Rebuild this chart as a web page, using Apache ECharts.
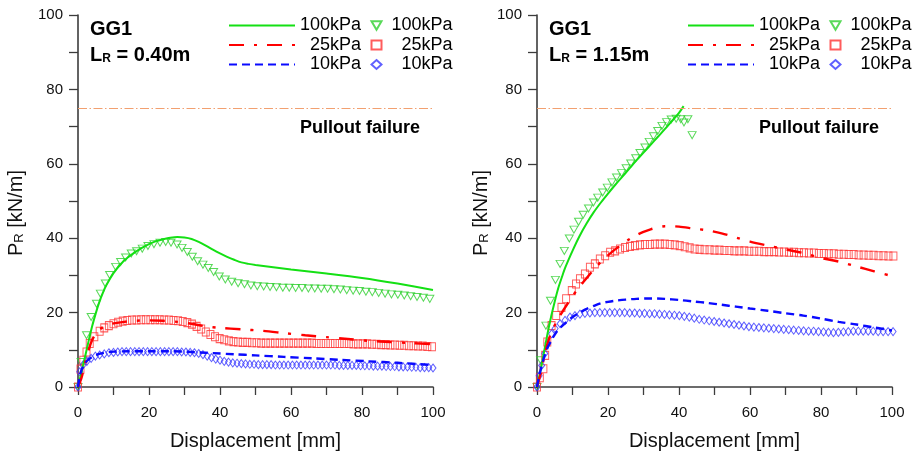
<!DOCTYPE html>
<html>
<head>
<meta charset="utf-8">
<script src="https://cdn.jsdelivr.net/npm/echarts@6/dist/echarts.min.js"></script>
<style>
  html, body { margin: 0; padding: 0; background: #ffffff; }
  #chart { width: 913px; height: 455px; }
</style>
</head>
<body>
<div id="chart"></div>
<script>
// ---------------------------------------------------------------
// Pullout resistance P_R [kN/m] versus displacement [mm], geogrid GG1
// two reinforcement lengths, three normal pressures each.
// Lines = calculated curves, hollow markers = measured points.
// ---------------------------------------------------------------
const pressures = ['100kPa', '25kPa', '10kPa'];
const lengths = ['0.40m', '1.15m'];
const xTickLabels = [0, 20, 40, 60, 80, 100];
const yTickLabels = [0, 20, 40, 60, 80, 100];
const pulloutLimit = 75;
const pulloutText = 'Pullout failure';
const panelName = 'GG1';
const xName = 'Displacement [mm]';

// ---- L_R = 0.40 m, calculated ----
const calc040_100 = [[0,0],[1,4],[2,8.2],[3,12.4],[4,16.4],[5,19.8],[6,22.8],[7,25.3],[8,27.4],[10,30.6],[12,33],[14,34.8],[16,36.2],[18,37.4],[20,38.4],[22,39.2],[24,39.7],[26,40.1],[28,40.3],[30,40.2],[32,39.8],[34,39],[36,38],[38,36.9],[40,35.9],[42,35],[44,34.2],[46,33.5],[48,33.1],[50,32.8],[60,31.6],[70,30.5],[80,29.3],[90,27.8],[100,26.1]];
const calc040_25 = [[0,0],[1,2.5],[2,6.5],[3,10],[4,12.7],[5,14.3],[6,15.4],[8,16.5],[10,17.1],[13,17.5],[16,17.8],[20,17.9],[24,17.8],[28,17.5],[32,17],[36,16.3],[40,15.9],[46,15.5],[52,15.1],[58,14.5],[64,13.9],[70,13.4],[76,12.9],[82,12.4],[88,12.1],[94,11.8],[100,11.5]];
const calc040_10 = [[0,0],[0.5,3],[1,4.6],[2,6.4],[3,7.4],[4,8.1],[6,8.9],[8,9.3],[10,9.5],[14,9.6],[20,9.6],[26,9.6],[30,9.5],[34,9.3],[38,9.1],[44,8.8],[50,8.5],[58,8.1],[66,7.7],[74,7.3],[82,6.9],[90,6.5],[100,5.9]];

// ---- L_R = 0.40 m, measured ----
const test040_100 = [[0,0],[0.85,6.7],[2.4,13.9],[3.7,18.8],[5.2,22.4],[6.3,25.1],[7.7,27.8],[8.9,30.1],[10.6,32.3],[12,33.6],[13.4,34.8],[15,35.9],[16.5,36.5],[18.1,37.2],[19.7,37.9],[21.4,38.4],[23.1,38.8],[24.7,39],[26.2,38.8],[27.9,38.3],[29.3,37.4],[30.8,36.3],[32.2,35],[33.7,33.8],[35.2,32.9],[36.7,32],[38.2,30.9],[39.8,29.7],[41.5,28.9],[43.3,28.3],[45.1,27.9],[46.9,27.6],[48.7,27.3],[50.5,27.1],[52.3,27],[54.1,26.9],[55.9,26.8],[57.7,26.7],[59.5,26.7],[61.3,26.6],[63.1,26.6],[64.9,26.5],[66.7,26.5],[68.5,26.4],[70.3,26.4],[72.1,26.3],[73.9,26.2],[75.7,26],[77.5,25.9],[79.3,25.8],[81.1,25.6],[82.9,25.5],[84.7,25.3],[86.5,25.1],[88.3,24.9],[90.1,24.8],[91.9,24.6],[93.7,24.4],[95.5,24.2],[97.3,24],[99.1,23.7]];
const test040_25 = [[0,0],[0.7,4.8],[1.5,7.2],[2.4,9.4],[3.3,11.7],[4.6,13.5],[6.1,15],[7.4,15.9],[8.7,16.5],[10,17],[11.3,17.4],[12.6,17.7],[13.9,17.9],[15.2,18],[16.5,18],[17.8,18.1],[19.1,18.1],[20.4,18.1],[21.7,18.1],[23,18.1],[24.3,18],[25.6,18],[26.9,17.9],[28.2,17.8],[29.5,17.6],[30.8,17.3],[32.1,16.9],[33.4,16.3],[34.7,15.6],[36,14.8],[37.3,14.1],[38.6,13.5],[39.9,13],[41.2,12.7],[42.5,12.4],[43.8,12.2],[45.1,12.1],[46.4,12],[47.7,12],[49,11.9],[50.3,11.9],[51.6,11.8],[52.9,11.8],[54.2,11.8],[55.5,11.8],[56.8,11.8],[58.1,11.8],[59.4,11.8],[60.7,11.8],[62,11.8],[63.3,11.8],[64.6,11.8],[65.9,11.8],[67.2,11.7],[68.5,11.7],[69.8,11.7],[71.1,11.7],[72.4,11.7],[73.7,11.7],[75,11.7],[76.3,11.7],[77.6,11.6],[78.9,11.6],[80.2,11.6],[81.5,11.6],[82.8,11.5],[84.1,11.5],[85.4,11.4],[86.7,11.4],[88,11.3],[89.3,11.3],[90.6,11.2],[91.9,11.2],[93.2,11.1],[94.5,11.1],[95.8,11],[97.1,11],[98.4,10.9],[99.7,10.8]];
const test040_10 = [[0,0],[0.5,4.1],[1.4,5.9],[2.5,6.9],[3.7,7.7],[4.9,8.3],[6.1,8.6],[7.4,8.9],[8.7,9.2],[10,9.3],[11.2,9.4],[12.4,9.5],[13.6,9.5],[14.8,9.5],[16,9.5],[17.2,9.5],[18.4,9.5],[19.6,9.5],[20.8,9.5],[22,9.5],[23.2,9.5],[24.4,9.5],[25.6,9.5],[26.8,9.5],[28,9.5],[29.2,9.4],[30.4,9.4],[31.6,9.3],[32.8,9.2],[34,9],[35.2,8.7],[36.4,8.3],[37.6,7.9],[38.8,7.5],[40,7.2],[41.2,6.9],[42.4,6.7],[43.6,6.5],[44.8,6.4],[46,6.3],[47.2,6.2],[48.4,6.1],[49.6,6.1],[50.8,6],[52,6],[53.2,6],[54.4,6],[55.6,5.9],[56.8,5.9],[58,5.9],[59.2,5.9],[60.4,5.9],[61.6,5.9],[62.8,5.9],[64,5.9],[65.2,5.9],[66.4,5.9],[67.6,5.9],[68.8,5.9],[70,5.9],[71.2,5.9],[72.4,5.9],[73.6,5.8],[74.8,5.8],[76,5.8],[77.2,5.8],[78.4,5.8],[79.6,5.7],[80.8,5.7],[82,5.7],[83.2,5.6],[84.4,5.6],[85.6,5.6],[86.8,5.5],[88,5.5],[89.2,5.5],[90.4,5.4],[91.6,5.4],[92.8,5.4],[94,5.3],[95.2,5.3],[96.4,5.2],[97.6,5.2],[98.8,5.2],[100,5.1]];

// ---- L_R = 1.15 m, calculated ----
const calc115_100 = [[0,0],[1,4.5],[2,9.5],[3,14.5],[4,19],[5,23],[6,26.6],[7,29.5],[8,32.2],[10,36.6],[12,40.6],[14,44],[16,47],[18,49.6],[20,52],[22,54.3],[24,56.5],[26,58.7],[28,60.9],[30,63],[32,65.1],[34,67.2],[36,69.3],[38,71.5],[40,73.7],[41.3,75.5]];
const calc115_25 = [[0,0],[1,3.5],[2,8],[3,11.8],[4,14.6],[6,18.4],[8,21.5],[10,24.4],[12,27],[14,29.3],[16,31.6],[18,33.6],[20,35.4],[22,37],[24,38.4],[26,39.7],[28,40.8],[30,41.7],[32,42.4],[34,42.9],[36,43.2],[38,43.2],[40,43.1],[44,42.6],[48,42.1],[52,41.3],[56,40.2],[60,39.1],[65,38],[70,37],[75,36],[80,34.7],[85,33.7],[90,32.4],[95,31.1],[100,29.8]];
const calc115_10 = [[0,0],[0.5,2.5],[1,4.5],[2,8],[3,10.6],[4,12.5],[5,14.1],[6,15.4],[8,17.2],[10,18.8],[12,20],[14,21],[16,21.8],[18,22.5],[20,22.9],[22,23.2],[25,23.5],[28,23.7],[32,23.8],[36,23.7],[40,23.4],[44,23],[48,22.6],[52,22.1],[56,21.6],[60,21.1],[65,20.5],[70,19.8],[75,19.2],[80,18.4],[85,17.5],[90,16.8],[95,16],[100,15.2]];

// ---- L_R = 1.15 m, measured ----
const test115_100 = [[0,0],[1,7.2],[2.5,16.5],[3.8,23.2],[5.2,28.8],[6.5,33.1],[7.7,36.6],[9.1,39.9],[10.4,42.3],[11.7,44.4],[13,46.3],[14.5,48],[15.9,49.6],[17.1,50.9],[18.5,52.3],[19.8,53.6],[21.1,55],[22.4,56.3],[23.8,57.5],[25.1,58.8],[26.4,60.1],[27.8,61.5],[29,62.9],[30.4,64.4],[31.6,65.9],[32.8,67.4],[34,68.8],[35.2,70.2],[36.5,71.2],[37.8,71.9],[39.2,72.1],[40.5,72],[41.4,71.1],[42.5,72],[43.7,67.7]];
const test115_25 = [[0,0],[0.8,2.5],[1.8,4.9],[2.3,8.5],[2.9,12.1],[4.1,16.5],[5.4,19.2],[6.9,21.4],[8.2,23.7],[9.8,25.9],[11,27.7],[12.1,29.1],[13.5,30.4],[14.9,32.2],[16.3,33.1],[17.7,34.4],[19.2,35.3],[20.6,36.2],[22,36.6],[23.4,37.1],[24.8,37.5],[26.2,37.8],[27.6,38],[29,38.2],[30.4,38.3],[31.8,38.3],[33.2,38.4],[34.6,38.4],[36,38.4],[37.4,38.3],[38.8,38.2],[40.2,38],[41.6,37.7],[43,37.4],[44.4,37.1],[45.8,37],[47.2,36.9],[48.6,36.9],[50,36.8],[51.4,36.8],[52.8,36.7],[54.2,36.7],[55.6,36.6],[57,36.6],[58.4,36.6],[59.8,36.5],[61.2,36.5],[62.6,36.5],[64,36.4],[65.4,36.4],[66.8,36.4],[68.2,36.3],[69.6,36.3],[71,36.2],[72.4,36.2],[73.8,36.1],[75.2,36.1],[76.6,36],[78,36],[79.4,35.9],[80.8,35.9],[82.2,35.8],[83.6,35.8],[85,35.7],[86.4,35.7],[87.8,35.6],[89.2,35.6],[90.6,35.5],[92,35.5],[93.4,35.4],[94.8,35.4],[96.2,35.3],[97.6,35.3],[99,35.2],[100.4,35.2]];
const test115_10 = [[0,0],[0.6,3],[1.3,5.8],[2.2,9],[3.1,11.8],[4.1,14.3],[5.1,15.7],[6.5,17],[7.9,17.9],[9.3,18.8],[10.7,19.2],[12.1,19.6],[13.5,19.8],[14.9,19.9],[16.3,20],[17.7,20],[19.1,20],[20.5,20],[21.9,20],[23.3,20],[24.7,20],[26.1,19.9],[27.5,19.9],[28.9,19.8],[30.3,19.8],[31.7,19.7],[33.1,19.7],[34.5,19.6],[35.9,19.5],[37.3,19.4],[38.7,19.3],[40.1,19.2],[41.5,19],[42.9,18.8],[44.3,18.5],[45.7,18.2],[47.1,18],[48.5,17.8],[49.9,17.6],[51.3,17.4],[52.7,17.2],[54.1,17],[55.5,16.8],[56.9,16.6],[58.3,16.4],[59.7,16.2],[61.1,16.1],[62.5,16],[63.9,15.9],[65.3,15.8],[66.7,15.7],[68.1,15.6],[69.5,15.5],[70.9,15.4],[72.3,15.3],[73.7,15.2],[75.1,15.1],[76.5,15],[77.9,15],[79.3,14.9],[80.7,14.8],[82.1,14.7],[83.5,14.6],[84.9,14.7],[86.3,14.8],[87.7,14.9],[89.1,15],[90.5,15],[91.9,15],[93.3,15],[94.7,15],[96.1,14.9],[97.5,14.9],[98.9,14.9],[100.3,14.9]];

// ---------------------------------------------------------------
const FONT = '"Liberation Sans", Arial, sans-serif';
const GREEN = '#14e014', GREEN_PT = '#2fd02f';
const RED = '#ff0000', RED_PT = '#ff3333';
const BLUE = '#0a0aff', BLUE_PT = '#3838ff';
const TRI_DOWN = 'path://M0,0L10,0L5,8.6Z';

const calcSets = [[calc040_100, calc040_25, calc040_10], [calc115_100, calc115_25, calc115_10]];
const testSets = [[test040_100, test040_25, test040_10], [test115_100, test115_25, test115_10]];

const lineStyles = [
  { color: GREEN, width: 2, type: 'solid' },
  { color: RED, width: 2.4, type: [15, 10, 3, 10] },
  { color: BLUE, width: 2.4, type: [8, 5] }
];
const markerStyles = [
  { symbol: TRI_DOWN, size: [8, 7], color: GREEN_PT },
  { symbol: 'rect', size: [7, 8], color: RED_PT },
  { symbol: 'diamond', size: [6, 8], color: BLUE_PT }
];
// right-aligned legend texts (two spaces take the width of one digit)
const lineLegendText = ['100kPa', '  25kPa', '  10kPa'];
const markLegendText = [' 100kPa', '   25kPa', '   10kPa'];

const panelLeft = [78, 537];
const plotW = 355, plotTop = 15, plotH = 372;

const grids = [], xAxes = [], yAxes = [], series = [], legends = [], graphics = [];
const labelOf = {};

function tickFmt(list) {
  return function (v) { return list.indexOf(v) >= 0 ? String(v) : ''; };
}

lengths.forEach(function (len, p) {
  const L = panelLeft[p];
  grids.push({ left: L, top: plotTop, width: plotW, height: plotH, outerBoundsMode: 'none', containLabel: false });
  xAxes.push({
    gridIndex: p, type: 'value', min: 0, max: 100, interval: 10,
    name: xName, nameLocation: 'middle', nameGap: 44,
    nameTextStyle: { fontFamily: FONT, fontSize: 20, color: '#111' },
    axisLine: { show: true, onZero: false, lineStyle: { color: '#3c3c3c', width: 1.6 } },
    axisTick: { show: true, inside: false, length: 8, lineStyle: { color: '#3c3c3c', width: 1.3 } },
    axisLabel: { show: true, margin: 18, fontFamily: FONT, fontSize: 15, color: '#111', formatter: tickFmt(xTickLabels) },
    splitLine: { show: false }
  });
  yAxes.push({
    gridIndex: p, type: 'value', min: 0, max: 100, interval: 10,
    axisLine: { show: true, onZero: false, lineStyle: { color: '#3c3c3c', width: 1.6 } },
    axisTick: { show: true, inside: false, length: 9, lineStyle: { color: '#3c3c3c', width: 1.3 } },
    axisLabel: { show: true, margin: 15, fontFamily: FONT, fontSize: 15, color: '#111', formatter: tickFmt(yTickLabels) },
    splitLine: { show: false }
  });

  const lineNames = [], markNames = [];
  pressures.forEach(function (pr, k) {
    const nCalc = 'calc ' + pr + ' ' + len;
    const nTest = 'test ' + pr + ' ' + len;
    labelOf[nCalc] = lineLegendText[k];
    labelOf[nTest] = markLegendText[k];
    lineNames.push(nCalc);
    markNames.push(nTest);
    const ms = markerStyles[k];
    series.push({
      name: nTest, type: 'scatter', xAxisIndex: p, yAxisIndex: p,
      data: testSets[p][k], symbol: ms.symbol, symbolSize: ms.size,
      clip: false, z: 2, silent: true,
      itemStyle: { color: 'transparent', borderColor: ms.color, borderWidth: 1 }
    });
    const ls = lineStyles[k];
    series.push({
      name: nCalc, type: 'line', xAxisIndex: p, yAxisIndex: p,
      data: calcSets[p][k], symbol: 'none', showSymbol: false, smooth: 0.3,
      z: 3, silent: true,
      lineStyle: { color: ls.color, width: ls.width, type: ls.type },
      itemStyle: { color: ls.color }
    });
  });

  // pullout failure level
  series.push({
    name: 'pullout ' + len, type: 'line', xAxisIndex: p, yAxisIndex: p, data: [],
    silent: true,
    markLine: {
      silent: true, symbol: ['none', 'none'], label: { show: false },
      lineStyle: { color: '#f2a070', width: 1.1, type: [9, 2.5, 1.5, 2.5] },
      data: [{ yAxis: pulloutLimit }]
    }
  });

  legends.push({
    left: L + 150, top: 16.5, orient: 'vertical', padding: 0, itemGap: 1.5,
    itemWidth: 66, itemHeight: 12, selectedMode: false,
    itemStyle: { opacity: 0 },
    data: lineNames, formatter: function (n) { return labelOf[n]; },
    textStyle: { fontFamily: FONT, fontSize: 18, color: '#000' }
  });
  legends.push({
    left: L + 292.5, top: 16.5, orient: 'vertical', padding: 0, itemGap: 1.5,
    itemWidth: 10, itemHeight: 9, selectedMode: false,
    data: markNames, formatter: function (n) { return labelOf[n]; },
    textStyle: { fontFamily: FONT, fontSize: 18, color: '#000' }
  });

  // panel captions
  graphics.push({
    type: 'text', x: L + 12, y: 29,
    style: { text: panelName, font: 'bold 20px ' + FONT, fill: '#000', verticalAlign: 'middle', align: 'left' }
  });
  graphics.push({
    type: 'text', x: L + 12, y: 55,
    style: {
      text: '{m|L}{s|R}{m| = ' + len + '}', verticalAlign: 'middle', align: 'left',
      rich: {
        m: { font: 'bold 20px ' + FONT, fill: '#000', lineHeight: 20 },
        s: { font: 'bold 12px ' + FONT, fill: '#000', lineHeight: 12, verticalAlign: 'bottom' }
      }
    }
  });
  graphics.push({
    type: 'text', x: L + 282, y: 128.5,
    style: { text: pulloutText, font: 'bold 18px ' + FONT, fill: '#000', verticalAlign: 'middle', align: 'center' }
  });
  graphics.push({
    type: 'text', x: L - (p === 0 ? 62 : 56), y: 213, rotation: Math.PI / 2,
    style: {
      text: '{m|P}{s|R}{m| [kN/m]}', align: 'center', verticalAlign: 'middle',
      rich: {
        m: { font: '20px ' + FONT, fill: '#111', lineHeight: 20 },
        s: { font: '13px ' + FONT, fill: '#111', lineHeight: 13, verticalAlign: 'bottom' }
      }
    }
  });
});

const chart = echarts.init(document.getElementById('chart'), null, { renderer: 'canvas' });
chart.setOption({
  backgroundColor: '#ffffff',
  animation: false,
  grid: grids,
  xAxis: xAxes,
  yAxis: yAxes,
  legend: legends,
  series: series,
  graphic: graphics
});
</script>
</body>
</html>
